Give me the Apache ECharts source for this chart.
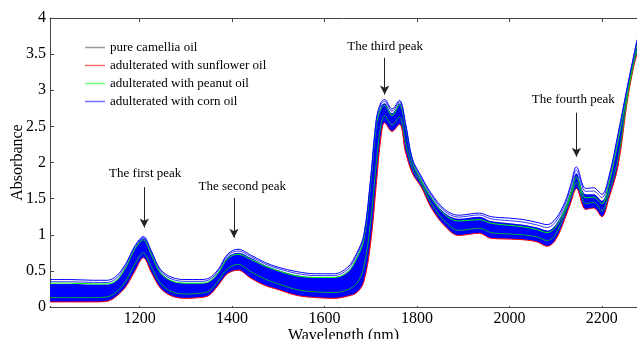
<!DOCTYPE html>
<html>
<head>
<meta charset="utf-8">
<script src="https://cdn.jsdelivr.net/npm/echarts@6/dist/echarts.min.js"></script>
<style>
  html, body { margin: 0; padding: 0; background: #fff; }
  #chart { width: 637px; height: 339px; }
</style>
</head>
<body>
<div id="chart"></div>
<script>
// wavelengths (nm)
var wl = [1006, 1050, 1100, 1130, 1150, 1170, 1190, 1208, 1225, 1245, 1270, 1300, 1330, 1350, 1370, 1390,
  1413, 1440, 1470, 1500, 1540, 1580, 1620, 1650, 1670, 1685, 1700, 1712, 1722, 1730, 1746, 1762,
  1775, 1790, 1810, 1830, 1860, 1890, 1935, 1960, 2000, 2030, 2060, 2082, 2100, 2120, 2133, 2145,
  2165, 2182, 2200, 2215, 2235, 2255, 2268, 2276];

// outermost corn oil spectra
var cornTop = [0.38, 0.38, 0.37, 0.37, 0.43, 0.60, 0.85, 0.975, 0.78, 0.52, 0.41, 0.38, 0.38, 0.40, 0.52, 0.73,
  0.80, 0.72, 0.62, 0.55, 0.49, 0.46, 0.46, 0.55, 0.75, 1.00, 1.80, 2.60, 2.83, 2.87, 2.74, 2.86,
  2.55, 2.05, 1.80, 1.58, 1.35, 1.27, 1.30, 1.25, 1.23, 1.21, 1.17, 1.14, 1.22, 1.45, 1.70, 1.94,
  1.64, 1.65, 1.56, 1.80, 2.40, 3.05, 3.45, 3.70];

var cornSecond = [0.35, 0.35, 0.34, 0.34, 0.40, 0.575, 0.835, 0.96, 0.765, 0.50, 0.385, 0.355, 0.355, 0.375, 0.50, 0.71,
  0.775, 0.70, 0.60, 0.53, 0.465, 0.435, 0.435, 0.52, 0.72, 0.975, 1.775, 2.575, 2.805, 2.845, 2.71, 2.84,
  2.535, 2.035, 1.78, 1.56, 1.325, 1.245, 1.275, 1.22, 1.195, 1.175, 1.135, 1.10, 1.18, 1.415, 1.66, 1.895,
  1.60, 1.605, 1.515, 1.765, 2.365, 3.025, 3.435, 3.68];

// dense band of spectra: upper edge (lower edge = sunflowerLow)
var bandUpper = [0.32, 0.32, 0.31, 0.31, 0.37, 0.55, 0.82, 0.95, 0.75, 0.48, 0.36, 0.33, 0.33, 0.35, 0.48, 0.69,
  0.75, 0.68, 0.58, 0.51, 0.44, 0.41, 0.41, 0.49, 0.69, 0.95, 1.75, 2.55, 2.78, 2.82, 2.68, 2.82,
  2.52, 2.02, 1.76, 1.54, 1.30, 1.22, 1.25, 1.19, 1.16, 1.14, 1.10, 1.06, 1.14, 1.38, 1.62, 1.85,
  1.56, 1.56, 1.47, 1.73, 2.33, 3.00, 3.42, 3.66];

var sunflowerLow = [0.07, 0.07, 0.07, 0.08, 0.15, 0.28, 0.50, 0.68, 0.48, 0.26, 0.15, 0.12, 0.13, 0.16, 0.30, 0.46,
  0.51, 0.40, 0.30, 0.24, 0.16, 0.13, 0.12, 0.15, 0.20, 0.35, 0.90, 1.70, 2.35, 2.55, 2.43, 2.53,
  2.15, 1.85, 1.65, 1.38, 1.12, 0.99, 1.02, 0.95, 0.94, 0.93, 0.90, 0.84, 0.93, 1.22, 1.45, 1.64,
  1.35, 1.37, 1.25, 1.50, 1.95, 2.85, 3.30, 3.50];

var peanutHigh = [0.33, 0.33, 0.32, 0.32, 0.37, 0.55, 0.81, 0.93, 0.73, 0.47, 0.36, 0.33, 0.33, 0.35, 0.47, 0.67,
  0.73, 0.66, 0.57, 0.50, 0.43, 0.41, 0.41, 0.48, 0.68, 0.93, 1.73, 2.52, 2.75, 2.79, 2.65, 2.80,
  2.50, 2.01, 1.74, 1.52, 1.28, 1.19, 1.21, 1.16, 1.13, 1.11, 1.07, 1.03, 1.11, 1.35, 1.58, 1.80,
  1.51, 1.52, 1.43, 1.70, 2.30, 2.98, 3.40, 3.64];

var peanutLow = [0.13, 0.13, 0.13, 0.14, 0.21, 0.36, 0.60, 0.75, 0.56, 0.33, 0.21, 0.18, 0.19, 0.22, 0.36, 0.53,
  0.59, 0.49, 0.39, 0.32, 0.24, 0.21, 0.20, 0.24, 0.33, 0.55, 1.20, 2.00, 2.52, 2.65, 2.52, 2.63,
  2.28, 1.92, 1.70, 1.44, 1.19, 1.06, 1.09, 1.03, 1.01, 1.00, 0.97, 0.92, 1.01, 1.30, 1.53, 1.72,
  1.43, 1.45, 1.33, 1.58, 2.05, 2.90, 3.34, 3.55];

var camellia = [0.22, 0.22, 0.22, 0.22, 0.28, 0.45, 0.70, 0.85, 0.65, 0.40, 0.28, 0.25, 0.25, 0.28, 0.41, 0.60,
  0.66, 0.57, 0.47, 0.40, 0.33, 0.30, 0.29, 0.35, 0.50, 0.75, 1.50, 2.30, 2.65, 2.72, 2.58, 2.70,
  2.40, 1.95, 1.72, 1.48, 1.23, 1.12, 1.15, 1.09, 1.07, 1.05, 1.02, 0.97, 1.06, 1.32, 1.55, 1.76,
  1.47, 1.48, 1.38, 1.64, 2.18, 2.94, 3.37, 3.60];

var xTicks = [1200, 1400, 1600, 1800, 2000, 2200];

var peakNames = ['The first peak', 'The second peak', 'The third peak', 'The fourth peak'];
var peakText = [[1212, 1.845], [1422, 1.67], [1731, 3.60], [2138, 2.87]];
var arrowFrom = [[1210, 1.66], [1404, 1.51], [1730, 3.45], [2145, 2.69]];
var arrowTo = [[1210, 1.10], [1404, 0.96], [1730, 2.94], [2145, 2.08]];

var names = ['pure camellia oil', 'adulterated with sunflower oil', 'adulterated with peanut oil', 'adulterated with corn oil'];
var FONT = '"Liberation Serif", "Times New Roman", serif';

function pairs(ys) {
  return wl.map(function (x, i) { return [x, ys[i]]; });
}

var chart = echarts.init(document.getElementById('chart'));

var lineBase = { type: 'line', showSymbol: false, symbol: 'none', smooth: 0.35, animation: false, silent: true, z: 3 };

var series = [
  // camellia lies inside the corn band and is hidden by it, as in the original
  Object.assign({}, lineBase, {
    name: names[0], z: 1, data: pairs(camellia), lineStyle: { color: '#000', width: 1 }, itemStyle: { color: '#000' }
  }),
  // blue band: fill under upper edge, then blank out under lower edge
  Object.assign({}, lineBase, {
    name: names[3], z: 2, data: pairs(bandUpper),
    lineStyle: { width: 0, opacity: 0 }, itemStyle: { color: '#0000ff' },
    areaStyle: { color: '#0000ff', opacity: 1, origin: 0.03 }
  }),
  Object.assign({}, lineBase, {
    name: names[1], z: 2, data: pairs(sunflowerLow), lineStyle: { color: '#ff0000', width: 1 }, itemStyle: { color: '#ff0000' }
  }),
  Object.assign({}, lineBase, {
    name: 'blank', z: 2, data: pairs(sunflowerLow),
    lineStyle: { width: 0, opacity: 0 },
    areaStyle: { color: '#ffffff', opacity: 1, origin: 0.015 }
  }),
  Object.assign({}, lineBase, {
    name: names[2], data: pairs(peanutLow), lineStyle: { color: '#00d800', width: 0.8 }, itemStyle: { color: '#00ff00' }
  }),
  Object.assign({}, lineBase, {
    name: names[2], data: pairs(peanutHigh), lineStyle: { color: '#00ff00', width: 1 }, itemStyle: { color: '#00ff00' }
  }),
  Object.assign({}, lineBase, {
    name: names[3], data: pairs(cornSecond), lineStyle: { color: '#0000ff', width: 0.8 }, itemStyle: { color: '#0000ff' }
  }),
  Object.assign({}, lineBase, {
    name: names[3], data: pairs(cornTop), lineStyle: { color: '#0000ff', width: 1 }, itemStyle: { color: '#0000ff' },
    markLine: {
      silent: true, animation: false,
      symbol: ['none', 'arrow'], symbolSize: [7, 9],
      lineStyle: { color: '#222', width: 1, type: 'solid' },
      label: { show: false },
      data: arrowFrom.map(function (p, i) { return [{ coord: p }, { coord: arrowTo[i] }]; })
    },
    markPoint: {
      silent: true, animation: false,
      symbol: 'rect', symbolSize: 1, itemStyle: { color: 'rgba(0,0,0,0)' },
      label: { show: true, position: 'inside', formatter: '{b}', color: '#000', fontFamily: FONT, fontSize: 13 },
      data: peakText.map(function (p, i) { return { coord: p, name: peakNames[i] }; })
    }
  })
];

var legendColors = ['#999999', '#ff7070', '#70ff70', '#7070ff'];

var option = {
  backgroundColor: '#fff',
  animation: false,
  grid: { left: 50, right: 0, top: 18, bottom: 32, containLabel: false, outerBoundsMode: 'none' },
  legend: {
    orient: 'vertical', left: 80, top: 36,
    itemWidth: 20, itemHeight: 1.5, itemGap: 5,
    textStyle: { fontFamily: FONT, fontSize: 13, color: '#000' },
    data: names.map(function (n, i) { return { name: n, icon: 'rect', itemStyle: { color: legendColors[i] } }; })
  },
  xAxis: [{
    type: 'value', min: 1006, max: 2276,
    name: 'Wavelength (nm)', nameLocation: 'middle', nameGap: 21, nameMoveOverlap: false,
    nameTextStyle: { fontFamily: FONT, fontSize: 16, color: '#000' },
    axisLine: { lineStyle: { color: '#444', width: 1 } },
    axisTick: { inside: true, length: 4, customValues: xTicks, lineStyle: { color: '#444' } },
    axisLabel: { customValues: xTicks, margin: 4, fontFamily: FONT, fontSize: 16, color: '#000',
      formatter: function (v) { return String(v); } },
    splitLine: { show: false }
  }, {
    type: 'value', position: 'top', min: 1006, max: 2276,
    axisLine: { show: true, lineStyle: { color: '#444', width: 1 } },
    axisTick: { show: true, inside: true, length: 4, customValues: xTicks, lineStyle: { color: '#444' } },
    axisLabel: { show: false },
    splitLine: { show: false }
  }],
  yAxis: {
    type: 'value', min: 0, max: 4, interval: 0.5,
    name: 'Absorbance', nameLocation: 'middle', nameGap: 24, nameMoveOverlap: false,
    nameTextStyle: { fontFamily: FONT, fontSize: 16, color: '#000' },
    axisLine: { show: true, lineStyle: { color: '#444', width: 1 } },
    axisTick: { show: true, inside: true, length: 4, lineStyle: { color: '#444' } },
    axisLabel: { margin: 4, fontFamily: FONT, fontSize: 16, color: '#000' },
    splitLine: { show: false }
  },
  series: series
};

chart.setOption(option);
</script>
</body>
</html>
